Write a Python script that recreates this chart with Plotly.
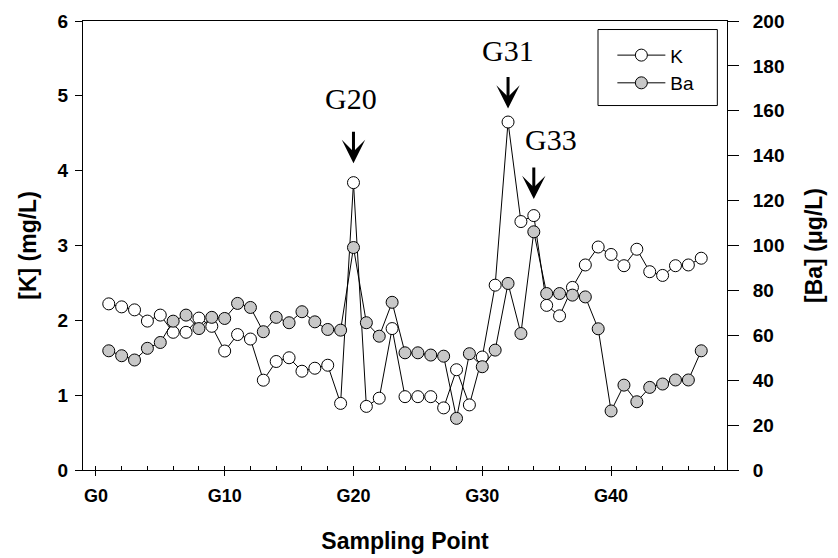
import plotly.graph_objects as go

# Sampling point index (G1 ... G47)
sample_idx = list(range(1, 48))

# Potassium concentration, mg/L (left axis)
k_mgL = [2.22, 2.18, 2.14, 1.99, 2.07, 1.84, 1.84, 2.03, 1.92, 1.59,
         1.81, 1.75, 1.20, 1.45, 1.50, 1.32, 1.36, 1.40, 0.89, 3.84,
         0.85, 0.96, 1.89, 0.98, 0.98, 0.98, 0.83, 1.34, 0.87, 1.51,
         2.47, 4.65, 3.32, 3.40, 2.20, 2.06, 2.44, 2.74, 2.98, 2.88,
         2.73, 2.95, 2.65, 2.60, 2.73, 2.74, 2.83]

# Barium concentration, ug/L (right axis)
ba_ugL = [53.1, 50.9, 49.0, 54.2, 56.8, 66.3, 69.0, 63.0, 68.0, 67.5,
          74.2, 72.4, 61.6, 68.0, 65.6, 70.5, 66.0, 62.6, 62.3, 99.1,
          65.6, 59.6, 74.7, 52.2, 52.2, 51.2, 50.7, 23.0, 51.8, 46.0,
          53.4, 83.1, 60.8, 106.1, 78.6, 78.6, 77.9, 77.1, 62.9, 26.3,
          37.8, 30.4, 36.8, 38.3, 40.1, 40.1, 53.1]

x_tickvals = [0, 10, 20, 30, 40]
x_ticktext = ["G0", "G10", "G20", "G30", "G40"]

# Peak callouts: label, arrow x, arrow tip y (K scale), label x, label y
callout_labels = ["G20", "G31", "G33"]
callout_arrow_x = [20, 32, 34]
callout_arrow_tip_y = [4.10, 4.83, 3.62]
callout_text_x = [19.8, 32.0, 35.3]
callout_text_y = [4.96, 5.61, 4.42]

SANS = "Liberation Sans, Arial, sans-serif"
SERIF = "Liberation Serif, Times New Roman, serif"

fig = go.Figure()
fig.add_trace(go.Scatter(
    x=sample_idx, y=k_mgL, name="K", mode="lines+markers",
    line=dict(color="black", width=1),
    marker=dict(symbol="circle", size=12, color="white",
                line=dict(color="black", width=1)),
))
fig.add_trace(go.Scatter(
    x=sample_idx, y=ba_ugL, name="Ba", mode="lines+markers", yaxis="y2",
    line=dict(color="black", width=1),
    marker=dict(symbol="circle", size=12, color="#c8c8c8",
                line=dict(color="black", width=1)),
))

annotations = []
for lab, ax_x, tip_y, tx, ty in zip(callout_labels, callout_arrow_x,
                                    callout_arrow_tip_y, callout_text_x,
                                    callout_text_y):
    annotations.append(dict(
        x=ax_x, y=tip_y, xref="x", yref="y", text="", showarrow=True,
        ax=0, ay=-33, arrowhead=3, arrowsize=1.3, arrowwidth=3,
        arrowcolor="black", standoff=0,
    ))
    annotations.append(dict(
        x=tx, y=ty, xref="x", yref="y", text=lab, showarrow=False,
        font=dict(family=SERIF, size=30, color="black"),
        xanchor="center", yanchor="middle",
    ))

# legend frame (drawn as a rectangle in paper coordinates)
shapes = [dict(type="rect", xref="paper", yref="paper",
               x0=0.7997, x1=0.985, y0=0.8117, y1=0.981,
               line=dict(color="black", width=1), fillcolor="white",
               layer="below")]

fig.update_layout(
    width=838, height=558,
    margin=dict(l=83, r=111, t=21, b=88, autoexpand=False),
    paper_bgcolor="white", plot_bgcolor="white",
    font=dict(family=SANS, color="black"),
    showlegend=True,
    legend=dict(
        x=0.822, y=0.966, xanchor="left", yanchor="top",
        bgcolor="rgba(0,0,0,0)", borderwidth=0, itemwidth=48,
        font=dict(family=SANS, size=19, color="black"),
    ),
    xaxis=dict(
        range=[-1, 49], tickmode="array", tickvals=x_tickvals,
        ticktext=x_ticktext, ticks="outside", ticklen=5, tickwidth=1,
        tickcolor="black", showline=True, linecolor="black", linewidth=1,
        mirror=True, showgrid=False, zeroline=False, ticklabelstandoff=4,
        tickfont=dict(family=SANS, size=18, color="black", weight="bold"),
        minor=dict(tickmode="linear", tick0=0, dtick=2, ticks="inside",
                   ticklen=4, tickcolor="black", showgrid=False),
        title=dict(text="Sampling Point", standoff=28,
                   font=dict(family=SANS, size=23, color="black", weight="bold")),
    ),
    yaxis=dict(
        range=[0, 6], dtick=1, ticks="outside", ticklen=7, tickcolor="black",
        showline=True, linecolor="black", linewidth=1, showgrid=False,
        zeroline=False, ticklabelstandoff=3,
        tickfont=dict(family=SANS, size=19, color="black", weight="bold"),
        title=dict(text="[K] (mg/L)", standoff=14,
                   font=dict(family=SANS, size=23, color="black", weight="bold")),
    ),
    yaxis2=dict(
        range=[0, 200], dtick=20, overlaying="y", side="right", anchor="x",
        ticks="outside", ticklen=11, tickcolor="black", showline=True,
        linecolor="black", linewidth=1, showgrid=False, zeroline=False,
        ticklabelstandoff=10,
        tickfont=dict(family=SANS, size=19, color="black", weight="bold"),
        title=dict(text="[Ba] (μg/L)", standoff=22,
                   font=dict(family=SANS, size=23, color="black", weight="bold")),
    ),
    shapes=shapes,
    annotations=annotations,
)

fig.write_html("out.html")
